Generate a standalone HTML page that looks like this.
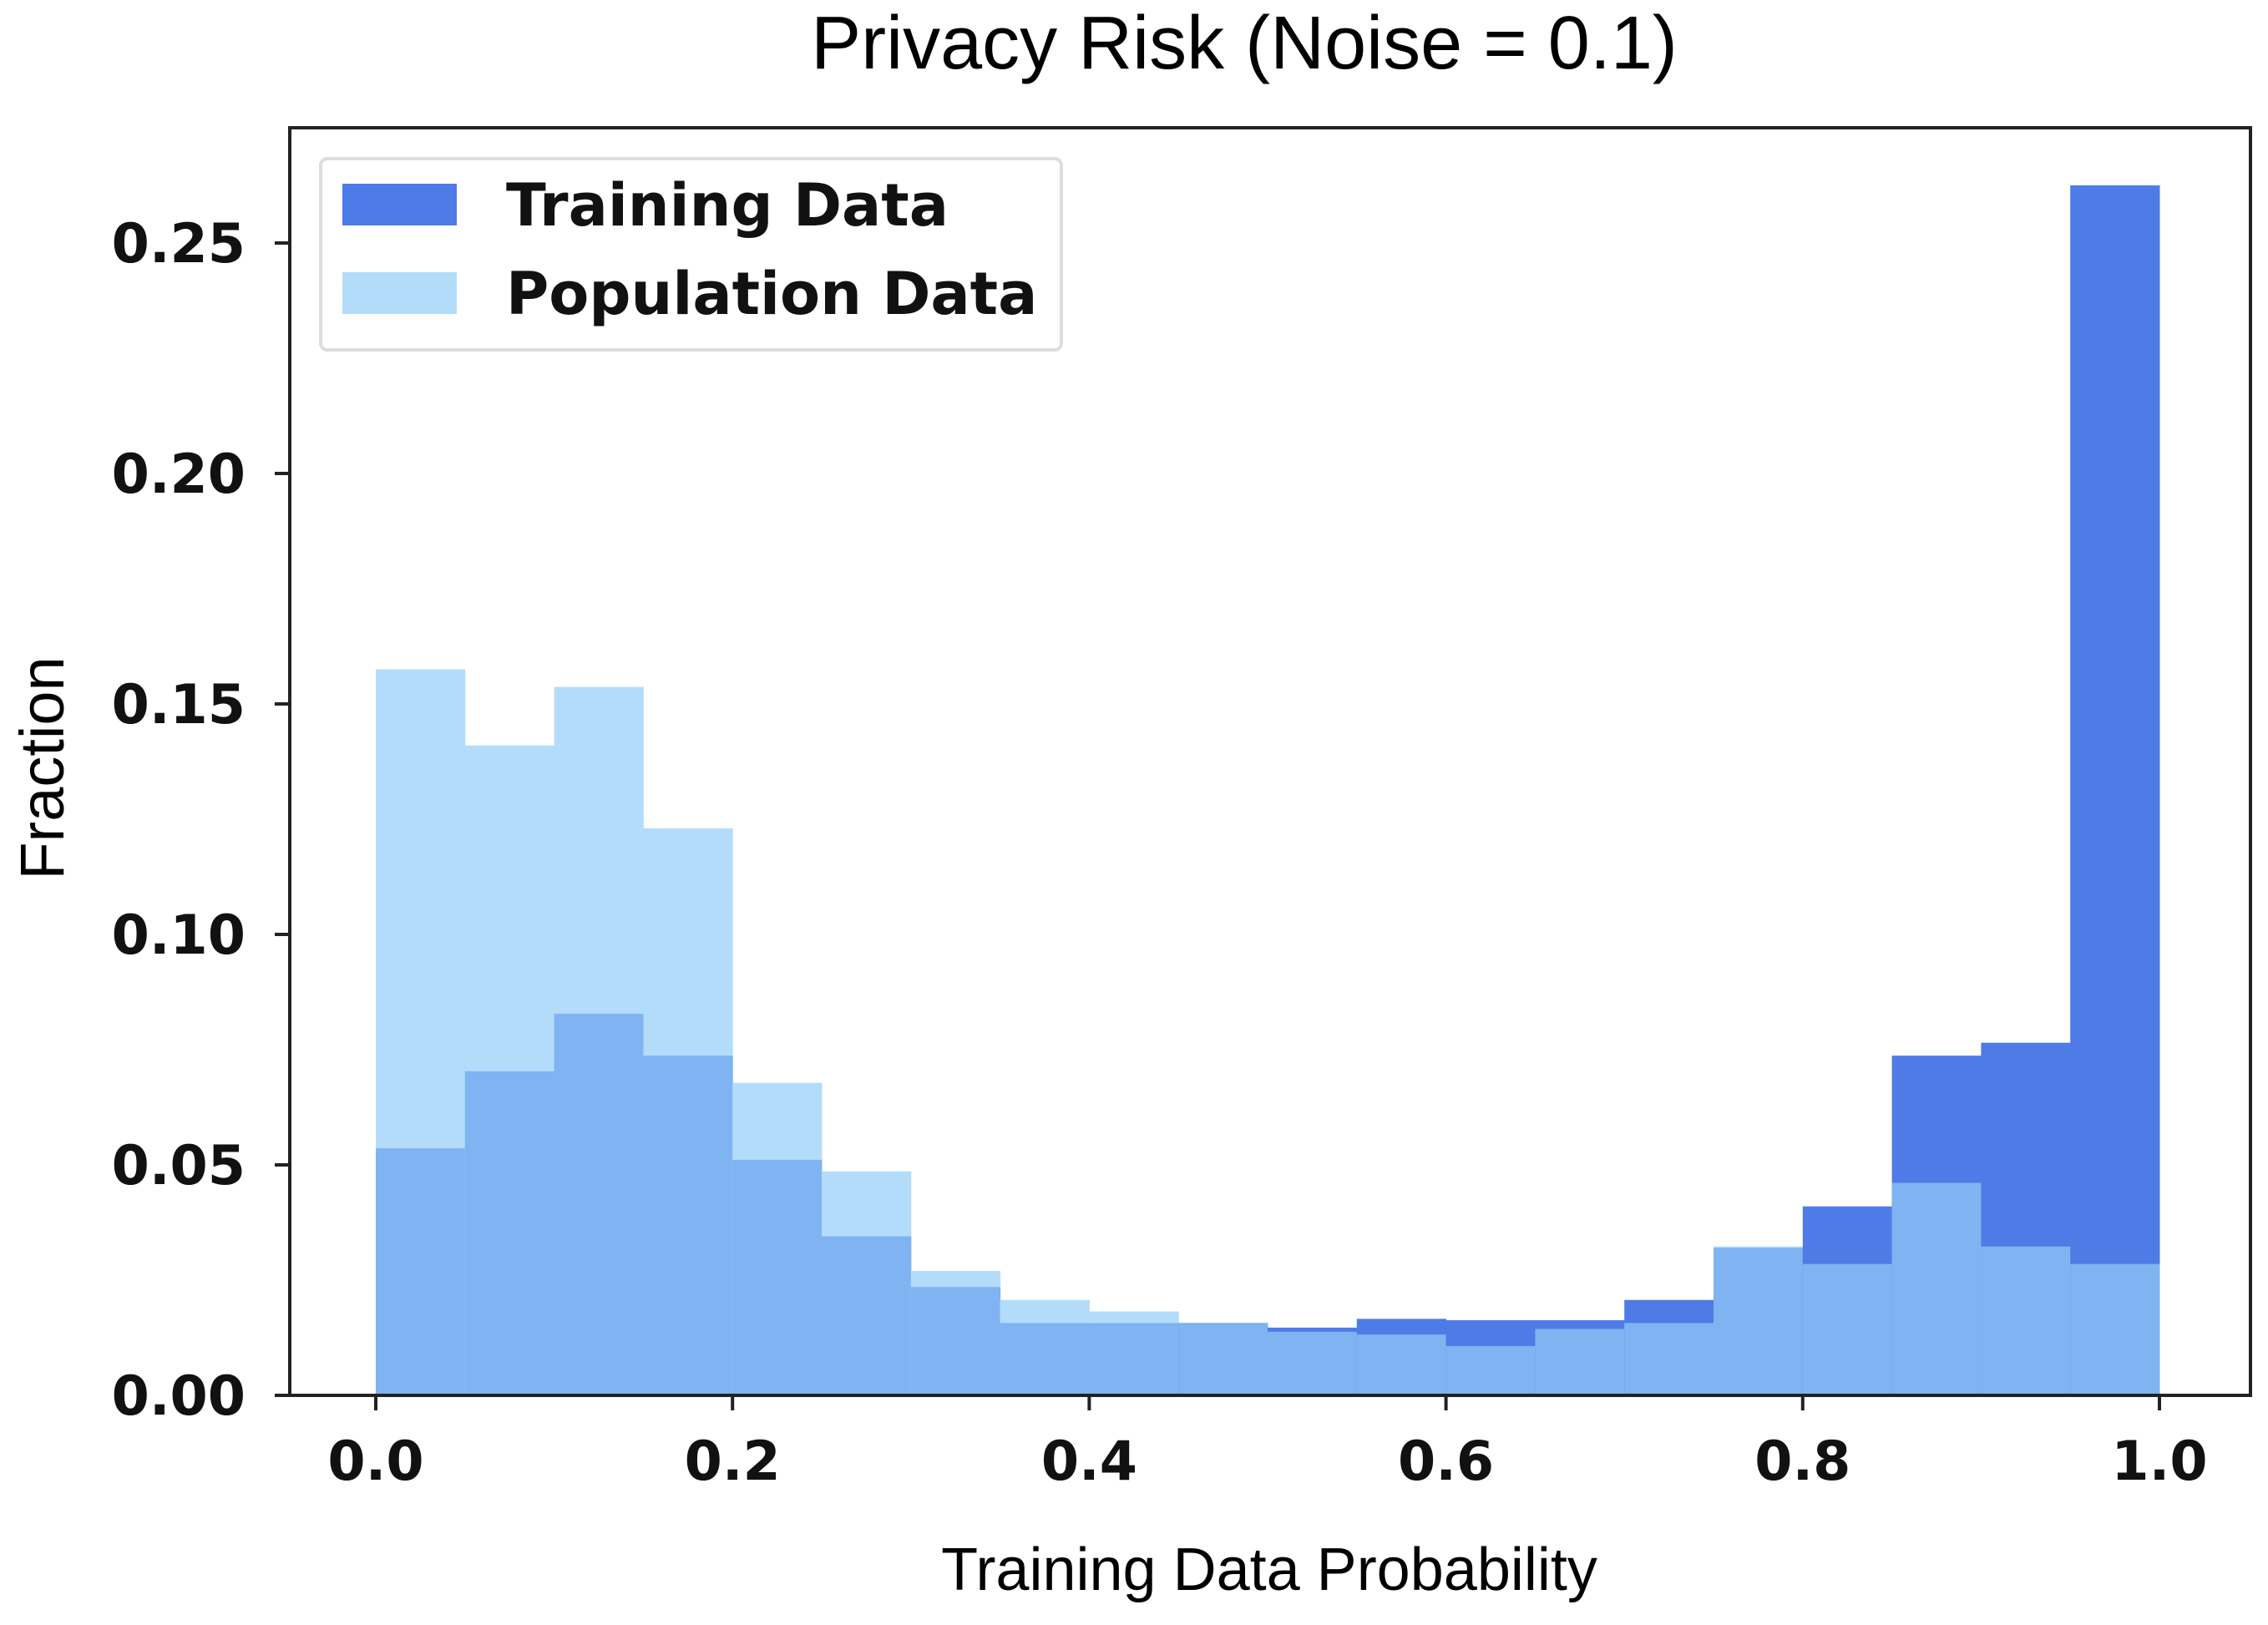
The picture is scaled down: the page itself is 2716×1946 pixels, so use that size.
<!DOCTYPE html>
<html><head><meta charset="utf-8"><style>
html,body{margin:0;padding:0;background:#fff;}
svg text{font-family:"DejaVu Sans","Liberation Sans",sans-serif;}
</style></head><body>
<svg id="chart" width="2716" height="1941" xmlns="http://www.w3.org/2000/svg">
<text x="1490" y="82" text-anchor="middle" font-size="90" style="font-family:'Liberation Sans',sans-serif" fill="#000">Privacy Risk (Noise = 0.1)</text>
<g id="bars"></g>
<rect x="347" y="153" width="2348" height="1518" fill="none" stroke="#222" stroke-width="4"/>
<g id="axes"></g>
<text x="1520" y="1904" text-anchor="middle" font-size="72" style="font-family:'Liberation Sans',sans-serif" fill="#000">Training Data Probability</text>
<text transform="translate(76,920) rotate(-90)" text-anchor="middle" font-size="74" style="font-family:'Liberation Sans',sans-serif" fill="#000">Fraction</text>
<g>
<rect x="384" y="190" width="887" height="229" rx="8" fill="#fff" stroke="#ddd" stroke-width="4"/>
<rect x="410" y="220" width="137" height="50" fill="#4f7be6"/>
<text x="606" y="270" font-size="70" font-weight="bold" fill="#111">Training Data</text>
<rect x="410" y="326" width="137" height="50" fill="#b3dcfb"/>
<text x="606" y="376" font-size="70" font-weight="bold" fill="#111">Population Data</text>
</g>
</svg>
<script>
const binEdges = [0,0.05,0.1,0.15,0.2,0.25,0.3,0.35,0.4,0.45,0.5,0.55,0.6,0.65,0.7,0.75,0.8,0.85,0.9,0.95,1.0];
const trainingValues = [0.0536,0.0703,0.0828,0.0737,0.0511,0.0345,0.0235,0.0157,0.0157,0.0157,0.0147,0.0166,0.0163,0.0163,0.0207,0.032,0.041,0.0737,0.0765,0.2625];
const populationValues = [0.1575,0.141,0.1537,0.123,0.0678,0.0486,0.027,0.0207,0.0182,0.0157,0.0138,0.0132,0.0107,0.0144,0.0157,0.0323,0.0285,0.0461,0.0323,0.0285];
const xTicks = [0.0,0.2,0.4,0.6,0.8,1.0];
const xTickLabels = ["0.0","0.2","0.4","0.6","0.8","1.0"];
const yTicks = [0,0.05,0.1,0.15,0.2,0.25];
const yTickLabels = ["0.00","0.05","0.10","0.15","0.20","0.25"];

const NS="http://www.w3.org/2000/svg";
const X=v=>450+v*(2586-450);
const Y=v=>1671-v*(1380/0.25);
const bars=document.getElementById('bars');
function rect(x0,x1,v,fill,name){
  const r=document.createElementNS(NS,'rect');
  r.setAttribute('x',X(x0));r.setAttribute('width',X(x1)-X(x0)+0.5);
  r.setAttribute('y',Y(v));r.setAttribute('height',Y(0)-Y(v));
  r.setAttribute('fill',fill);
  
  
  bars.appendChild(r);
}
for(let i=0;i<trainingValues.length;i++){
  const t=trainingValues[i],p=populationValues[i];
  const mx=Math.max(t,p),mn=Math.min(t,p);
  rect(binEdges[i],binEdges[i+1],mx,t>=p?'#4f7be6':'#b3dcfb',t>=p?'bar-training':'bar-population');
  rect(binEdges[i],binEdges[i+1],mn,'#7fb3f2','bar-overlap');
}
const axes=document.getElementById('axes');
function line(x1,y1,x2,y2,name){
  const l=document.createElementNS(NS,'line');
  l.setAttribute('x1',x1);l.setAttribute('y1',y1);l.setAttribute('x2',x2);l.setAttribute('y2',y2);
  l.setAttribute('stroke','#222');l.setAttribute('stroke-width','4');
  
  
  axes.appendChild(l);
}
function text(x,y,s,anchor,name){
  const t=document.createElementNS(NS,'text');
  t.setAttribute('x',x);t.setAttribute('y',y);t.setAttribute('text-anchor',anchor);
  t.setAttribute('font-size','65');t.setAttribute('font-weight','bold');t.setAttribute('fill','#111');
  t.textContent=s;
  
  
  axes.appendChild(t);
}
xTicks.forEach((v,i)=>{line(X(v),1671,X(v),1689,'x-tick');text(X(v),1772,xTickLabels[i],'middle','x-tick-label');});
yTicks.forEach((v,i)=>{line(329,Y(v),347,Y(v),'y-tick');text(294,Y(v)+23,yTickLabels[i],'end','y-tick-label');});
</script>
</body></html>
